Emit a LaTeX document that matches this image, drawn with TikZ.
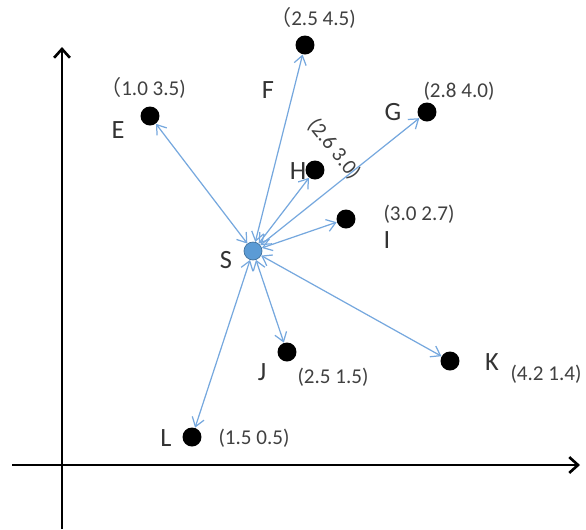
\documentclass[tikz,border=0pt]{standalone}
\usepackage{fontspec}
\setmainfont{Carlito}
\newfontfamily\cjk{Noto Sans CJK SC}
\usetikzlibrary{arrows.meta}
\definecolor{linkblue}{RGB}{118,168,222}
\definecolor{sfill}{RGB}{91,155,213}
\definecolor{sdraw}{RGB}{65,113,156}
\begin{document}
\begin{tikzpicture}[x=0.02cm,y=-0.02cm,
    pt/.style={circle,fill=black,inner sep=0pt,minimum size=0.38cm},
    lbl/.style={text=black!80,font=\fontsize{15}{15}\selectfont},
    crd/.style={text=black!75,inner sep=1pt,font=\fontsize{12}{12}\selectfont},
    link/.style={{Straight Barb[length=5pt,width=7pt]}-{Straight Barb[length=5pt,width=7pt]},draw=linkblue,line width=0.7pt}]
    \useasboundingbox (0,0) rectangle (586,529);
    % axes
    \coordinate (ybot) at (62,529);
    \coordinate (ytop) at (62,47);
    \coordinate (xleft) at (12,465);
    \coordinate (xright) at (580,465);
    \draw [-{Straight Barb[length=5pt,width=9pt]},line width=1.5pt] (ybot) -- (ytop);
    \draw [-{Straight Barb[length=5pt,width=9pt]},line width=1.5pt] (xleft) -- (xright);
    % points
    \node [circle,fill=sfill,draw=sdraw,inner sep=0pt,minimum size=0.36cm] (S) at (253,251) {};
    \node [pt] (E) at (150,116) {};
    \node [pt] (F) at (305,45) {};
    \node [pt] (G) at (427,112) {};
    \node [pt] (H) at (315,170) {};
    \node [pt] (I) at (346,219) {};
    \node [pt] (J) at (287,352) {};
    \node [pt] (K) at (450,361) {};
    \node [pt] (L) at (192,437) {};
    % letters
    \node [lbl] (lS) at (226,260) {S};
    \node [lbl] (lE) at (118,130) {E};
    \node [lbl] (lF) at (268,90) {F};
    \node [lbl] (lG) at (393,112) {G};
    \node [lbl] (lH) at (298,171) {H};
    \node [lbl] (lI) at (387,240) {I};
    \node [lbl] (lJ) at (262,372) {J};
    \node [lbl] (lK) at (492,362) {K};
    \node [lbl] (lL) at (166,438) {L};
    % coordinates
    \node [crd] (cE) at (143,88) {{\cjk （}1.0 3.5)};
    \node [crd] (cF) at (313,18) {{\cjk （}2.5 4.5)};
    \node [crd] (cG) at (459,91) {(2.8 4.0)};
    \node [crd,rotate=-51] (cH) at (334,149) {(2.6 3.0)};
    \node [crd] (cI) at (419,214) {(3.0 2.7)};
    \node [crd] (cJ) at (333,377) {(2.5 1.5)};
    \node [crd] (cK) at (546,374) {(4.2 1.4)};
    \node [crd] (cL) at (254,438) {(1.5 0.5)};
    % links
    \foreach \p in {E,F,G,H,I,J,K,L}
        \draw [link] (S) -- (\p);
\end{tikzpicture}
\end{document}
